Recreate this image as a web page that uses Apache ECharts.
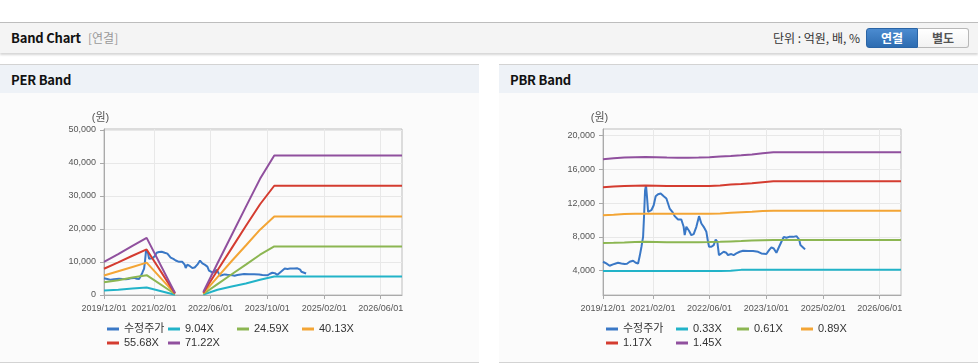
<!DOCTYPE html>
<html><head><meta charset="utf-8">
<script src="https://cdn.jsdelivr.net/npm/echarts@6/dist/echarts.min.js"></script>
<style>
html,body{margin:0;padding:0;background:#fff;width:978px;height:364px;overflow:hidden;font-family:"Noto Sans CJK KR","Liberation Sans",sans-serif;}
.abs{position:absolute;white-space:nowrap;}
#bar{position:absolute;left:0;top:22px;width:978px;height:31px;box-sizing:border-box;background:#f4f4f4;border-top:1px solid #bdbdbd;box-shadow:0 2px 2px rgba(0,0,0,0.16);}
.ttl{font-size:13px;font-weight:bold;color:#111;line-height:18px;letter-spacing:-0.2px;}
.sub{font-size:12px;color:#999;line-height:18px;}
.unit{font-size:12px;color:#333;line-height:18px;}
.btn{position:absolute;top:28px;height:20px;box-sizing:border-box;font-size:12px;font-weight:bold;line-height:18px;text-align:center;}
#b1{left:866px;width:52px;background:linear-gradient(#4b8bd0,#2d6cb1);border:1px solid #2a64a5;border-radius:3px 0 0 3px;color:#fff;}
#b2{left:918px;width:51px;background:linear-gradient(#fff,#f2f2f2);border:1px solid #b8b8b8;border-left:none;border-radius:0 3px 3px 0;color:#555;}
.panel{position:absolute;top:64px;width:479px;height:299px;box-sizing:border-box;background:#fbfbfb;border-top:1px solid #d3d3d3;border-bottom:1px solid #d3d3d3;}
.phead{position:absolute;left:0;top:0;width:479px;height:28px;background:#eef2f7;}
.phead span{position:absolute;left:11px;top:6px;}
.chart{position:absolute;top:93px;width:479px;height:268px;}
</style>
</head><body>
<div id="bar"></div>
<div class="abs ttl" style="left:11px;top:29px;">Band Chart</div>
<div class="abs sub" style="left:88px;top:29px;">[연결]</div>
<div class="abs unit" style="right:118px;top:29px;">단위 : 억원, 배, %</div>
<div class="btn" id="b1">연결</div>
<div class="btn" id="b2">별도</div>

<div class="panel" style="left:0;"><div class="phead"><span class="ttl">PER Band</span></div></div>
<div class="panel" style="left:499px;"><div class="phead"><span class="ttl">PBR Band</span></div></div>
<div class="chart" id="perChart" style="left:0;"></div>
<div class="chart" id="pbrChart" style="left:499px;"></div>

<script>
// ---------- DATA ----------
const xTickDates = ['2019-12-01','2021-02-01','2022-06-01','2023-10-01','2025-02-01','2026-06-01'];
const xMinDate = '2019-12-01';
const xMaxDate = '2026-12-01';

const perYTicks = [0, 10000, 20000, 30000, 40000, 50000];
const pbrYTicks = [4000, 8000, 12000, 16000, 20000];

const priceName = '수정주가';
const priceDates = ['2019-12-01','2019-12-29','2020-01-27','2020-02-25','2020-03-19','2020-04-08','2020-05-07','2020-06-04','2020-06-24','2020-07-17','2020-08-15','2020-09-07','2020-09-27','2020-10-11','2020-10-26','2020-11-09','2020-11-17','2020-11-26','2020-12-04','2020-12-13','2020-12-22','2021-01-19','2021-02-08','2021-02-25','2021-03-17','2021-04-09','2021-05-05','2021-05-28','2021-06-11','2021-06-25','2021-07-18','2021-08-07','2021-09-05','2021-10-03','2021-10-23','2021-11-01','2021-11-15','2021-12-08','2021-12-28','2022-01-17','2022-02-09','2022-03-04','2022-03-24','2022-04-13','2022-05-06','2022-05-20','2022-05-29','2022-06-18','2022-07-08','2022-07-25','2022-08-08','2022-08-22','2022-09-11','2022-10-01','2022-10-24','2022-11-07','2022-12-06','2022-12-26','2023-01-18','2023-02-16','2023-03-17','2023-04-29','2023-06-11','2023-07-24','2023-08-21','2023-10-03','2023-10-26','2023-11-15','2023-12-05','2023-12-28','2024-01-20','2024-02-09','2024-02-29','2024-03-23','2024-04-15','2024-05-19','2024-06-17','2024-07-10','2024-07-21','2024-08-13','2024-08-30'];
const priceValues = [5060,4860,4590,4750,4860,4940,4860,4790,4830,5060,5180,4940,4860,5730,6830,8000,10370,13500,14100,12650,10960,11150,11740,12800,13040,13120,12800,12530,12330,11350,10960,10450,10050,10050,9190,8200,9190,8720,8200,8320,9190,10450,9580,9190,8600,7420,6830,6830,7030,7690,7420,5850,6040,6240,6120,5850,5970,5850,6040,6240,6360,6320,6320,6240,6040,5970,6440,6750,6630,6120,6830,7420,8000,7890,8000,8000,8090,7690,7030,6750,6520];

// PER band
const perBandNames = ['9.04X','24.59X','40.13X','55.68X','71.22X'];
const perBandDates = ['2019-12-01','2020-04-01','2020-08-01','2020-12-01','2021-08-01','2021-12-01','2022-04-01','2022-08-01','2022-12-01','2023-04-01','2023-08-01','2023-12-01','2026-12-01'];
const per904  = [1350,1600,1950,2300,80,null,100,1600,2600,3500,4600,5600,5600];
const per2459 = [3850,4500,5300,6000,300,null,300,3300,6300,9200,12200,14700,14700];
const per4013 = [5900,7200,8500,9800,400,null,500,5400,10300,15000,19800,23800,23800];
const per5568 = [7950,9900,11900,13800,500,null,700,7500,14200,20900,27500,33100,33100];
const per7122 = [10000,12400,14900,17300,600,null,900,9600,18200,26700,35200,42250,42250];

// PBR band
const pbrBandNames = ['0.33X','0.61X','0.89X','1.17X','1.45X'];
const pbrBandDates = ['2019-12-01','2020-03-01','2020-06-01','2020-09-01','2020-12-01','2021-03-01','2021-06-01','2021-09-01','2021-12-01','2022-03-01','2022-06-01','2022-09-01','2022-12-01','2023-03-01','2023-06-01','2023-09-01','2023-12-01','2026-12-01'];
const pbr033 = [3970,3970,3970,3980,3980,3980,3970,3970,3970,3970,3970,3980,3990,4100,4100,4110,4120,4120];
const pbr061 = [7280,7300,7330,7380,7420,7400,7360,7350,7350,7360,7380,7420,7460,7500,7560,7600,7630,7630];
const pbr089 = [10560,10620,10700,10720,10740,10720,10720,10720,10720,10720,10720,10760,10840,10920,10980,11050,11080,11080];
const pbr117 = [13870,13950,14000,14030,14060,14030,14000,14000,14000,14000,14020,14080,14180,14250,14350,14470,14570,14570];
const pbr145 = [17170,17300,17380,17420,17450,17420,17370,17350,17350,17370,17420,17500,17560,17650,17750,17880,18000,18000];

const seriesColors = ['#3a78c6','#22b3c8','#8cb652','#f3a535','#d43c30','#90509e'];

// ---------- BUILD ----------
function ts(s){ const p = s.split('-').map(Number); return new Date(p[0], p[1]-1, p[2]).getTime(); }
function pairs(dates, vals){ return dates.map((d,i)=>[ts(d), vals[i]]); }
function fmtDate(v){ const d = new Date(v); const m = d.getMonth()+1, dd = d.getDate();
  return d.getFullYear() + '/' + (m<10?'0':'') + m + '/' + (dd<10?'0':'') + dd; }

const labelFont = 'Liberation Sans, Arial, sans-serif';
const legendFont = 'Liberation Sans, Noto Sans CJK KR, sans-serif';

function makeOption(bandNames, bandDates, bandArrays, yMin, yMax, yTicks, legendPos){
  const xTicks = xTickDates.map(ts);
  const names = [priceName].concat(bandNames);
  const series = [{
    name: priceName, type: 'line', data: pairs(priceDates, priceValues),
    showSymbol: false, symbol: 'none', lineStyle: {width: 2, color: seriesColors[0]},
    itemStyle: {color: seriesColors[0]}, emphasis: {disabled: true}, z: 2
  }];
  bandArrays.forEach((arr, i) => {
    series.push({
      name: bandNames[i], type: 'line', data: pairs(bandDates, arr),
      showSymbol: false, symbol: 'none', connectNulls: false,
      lineStyle: {width: 2, color: seriesColors[i+1]}, itemStyle: {color: seriesColors[i+1]},
      emphasis: {disabled: true}, z: 3
    });
  });
  const legends = names.map((n, i) => ({
    data: [n], left: legendPos[i][0], top: legendPos[i][1], icon: 'rect',
    itemWidth: 12, itemHeight: 3, padding: 0,
    textStyle: {fontSize: 11, color: '#333', fontFamily: legendFont, lineHeight: 14}
  }));
  return {
    animation: false,
    color: seriesColors,
    grid: {left: 104, top: 36, width: 298, height: 166, show: true, borderColor: '#bdbdbd', borderWidth: 1, backgroundColor: 'transparent'},
    legend: legends,
    xAxis: {
      type: 'value', min: ts(xMinDate), max: ts(xMaxDate), scale: true,
      axisLine: {lineStyle: {color: '#aaaaaa'}},
      axisTick: {show: true, length: 4, lineStyle: {color: '#aaaaaa'}, customValues: xTicks},
      axisLabel: {customValues: xTicks, formatter: fmtDate, fontSize: 9, color: '#555', margin: 9, fontFamily: labelFont, hideOverlap: false},
      splitLine: {show: true, lineStyle: {color: '#e8e8e8'}}
    },
    yAxis: {
      type: 'value', min: yMin, max: yMax,
      name: '(원)', nameLocation: 'end', nameGap: 6,
      nameTextStyle: {fontSize: 11, color: '#555', fontFamily: legendFont, padding: [0, 7, 0, 0]},
      axisLine: {show: true, lineStyle: {color: '#aaaaaa'}},
      axisTick: {show: true, length: 4, lineStyle: {color: '#aaaaaa'}, customValues: yTicks},
      axisLabel: {customValues: yTicks, fontSize: 9, color: '#555', margin: 8, fontFamily: labelFont},
      splitLine: {show: true, lineStyle: {color: '#e8e8e8'}}
    },
    series: series
  };
}

const perLegendPos = [[107,229],[168,229],[237,229],[302,229],[107,243],[168,243]];
const pbrLegendPos = [[107,229],[177,229],[238,229],[302,229],[107,243],[177,243]];

const perChart = echarts.init(document.getElementById('perChart'), null, {renderer: 'canvas'});
perChart.setOption(makeOption(perBandNames, perBandDates, [per904, per2459, per4013, per5568, per7122], 0, 50300, perYTicks, perLegendPos));
const pbrChart = echarts.init(document.getElementById('pbrChart'), null, {renderer: 'canvas'});
pbrChart.setOption(makeOption(pbrBandNames, pbrBandDates, [pbr033, pbr061, pbr089, pbr117, pbr145], 1130, 20750, pbrYTicks, pbrLegendPos));
</script>
</body></html>
